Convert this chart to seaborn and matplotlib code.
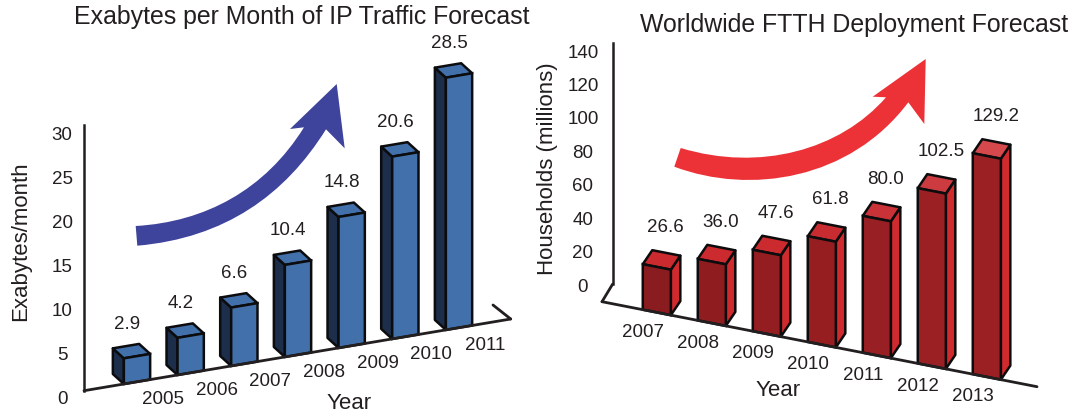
import matplotlib
matplotlib.use("Agg")
import matplotlib.pyplot as plt
import seaborn as sns
from matplotlib.patches import PathPatch, Polygon
from matplotlib.path import Path
from matplotlib.transforms import Affine2D

W, H = 1071, 415

ip_years = ["2005", "2006", "2007", "2008", "2009", "2010", "2011"]
ip_traffic = [2.9, 4.2, 6.6, 10.4, 14.8, 20.6, 28.5]
ip_ticks = [0, 5, 10, 15, 20, 25, 30]

ftth_years = ["2007", "2008", "2009", "2010", "2011", "2012", "2013"]
ftth_households = [26.6, 36.0, 47.6, 61.8, 80.0, 102.5, 129.2]
ftth_ticks = [0, 20, 40, 60, 80, 100, 120, 140]

INK = "#231f20"
EDGE = "#0c0c0e"
BLUE_STYLE = {"front": ["#4270aa"] * 7, "side": "#1c2e4a", "top": ["#4270aa"] * 7}
RED_STYLE = {
    "front": ["#8a1b1e", "#8f1c1f", "#931d20", "#961e21", "#981f23", "#9a2024", "#9a2024"],
    "side": "#cf2a2e",
    "top": ["#cb2a2e", "#cb2a2e", "#cb2a2e", "#c92c30", "#c93236", "#cb3b40", "#d5484c"],
}

sns.set_style("white")
plt.rcParams["font.family"] = ["Liberation Sans", "DejaVu Sans"]

fig = plt.figure(figsize=(W / 100, H / 100), dpi=100)
# picture pixels (y down) to display
px = Affine2D().scale(1, -1).translate(0, H)


def draw_panel(rect, x0, dx, zero, unit, bar_unit, base, depth, years, values,
               ticks, colors, width, label_off, year_off):
    left, right, top = rect
    ax = fig.add_axes([left / W, (H - zero) / H, (right - left) / W, (zero - top) / H])
    sns.barplot(x=years, y=values, color=colors["front"][0], saturation=1, width=width,
                edgecolor=EDGE, linewidth=1.8, ax=ax, zorder=3)
    ax.set_xlim((left - x0) / dx, (right - x0) / dx)
    ax.set_ylim(0, (zero - top) / unit)
    ax.patch.set_alpha(0)

    # slanted floor: shift each bar along the drawn x axis
    (bx0, by0), (bx1, by1) = base
    rise = (by0 - by1) / (bx1 - bx0)
    floor0 = by0 - rise * (x0 - bx0)
    shear = Affine2D.from_values(1, rise * dx / unit, 0, bar_unit / unit, 0, (zero - floor0) / unit)
    trans = shear + ax.transData

    for i, (bar, value) in enumerate(zip(ax.patches, values)):
        bar.set_transform(trans)
        bar.set_clip_on(False)
        bar.set_facecolor(colors["front"][i])
        x_a, x_b = bar.get_x(), bar.get_x() + bar.get_width()
        bl, tl, tr, br = trans.transform([(x_a, 0), (x_a, value), (x_b, value), (x_b, 0)])
        tl_b, tr_b = tl + depth, tr + depth
        bl_b, br_b = bl + depth, br + depth
        side = [bl, tl, tl_b, bl_b] if depth[0] < 0 else [br, tr, tr_b, br_b]
        for pts, c in ((side, colors["side"]), ([tl, tr, tr_b, tl_b], colors["top"][i])):
            ax.add_patch(Polygon(pts, closed=True, facecolor=c, edgecolor=EDGE, linewidth=1.8,
                                 joinstyle="round", transform=None, clip_on=False, zorder=2))
        ax.annotate(f"{value:.1f}", xy=(i, value), xycoords=trans, xytext=label_off,
                    textcoords="offset pixels", ha="center", va="center", fontsize=13.5, color=INK)
        ax.annotate(years[i], xy=(i, 0), xycoords=trans, xytext=year_off,
                    textcoords="offset pixels", ha="center", va="center", fontsize=13.5, color=INK)

    ax.set_xticks([])
    ax.set_xlabel("")
    ax.set_yticks(ticks)
    sns.despine(ax=ax, bottom=True)
    ax.spines["left"].set_color(INK)
    ax.spines["left"].set_linewidth(1.8)
    ax.grid(False)
    ax.plot([bx0, bx1], [by0, by1], color=INK, lw=2, transform=px, clip_on=False,
            solid_capstyle="round", zorder=4)
    return ax


def arrow(points, color):
    codes = [Path.MOVETO, Path.CURVE4, Path.CURVE4, Path.CURVE4, Path.LINETO, Path.LINETO,
             Path.LINETO, Path.LINETO, Path.CURVE4, Path.CURVE4, Path.CURVE4, Path.CLOSEPOLY]
    patch = PathPatch(Path(points + [points[0]], codes), facecolor=color, edgecolor="none",
                      transform=px, zorder=1)
    fig.add_artist(patch)


ax1 = draw_panel((84, 530, 60), 137, 53.67, 397, 8.77, 8.85, ((84, 390.7), (510.7, 319)), (-11, 10),
                 ip_years, ip_traffic, ip_ticks, BLUE_STYLE, 0.49, (-10, 32), (26, -18))
ax1.spines["left"].set_bounds(0.7, 31)
ax1.tick_params(axis="y", length=0, pad=15.8, labelsize=13.5, labelcolor=INK)
for t in ax1.get_yticklabels():
    t.set_horizontalalignment("center")
ax1.plot([510.7, 493], [319, 305], color=INK, lw=2, transform=px, clip_on=False, zorder=4)
ax1.set_ylabel("Exabytes/month", fontsize=16, color=INK, va="center")
ax1.yaxis.set_label_coords(21, 241.5, transform=px)
ax1.text(301.5, 17, "Exabytes per Month of IP Traffic Forecast", transform=px, ha="center", va="center",
         fontsize=17.9, color=INK)
ax1.text(349, 403, "Year", transform=px, ha="center", va="center", fontsize=16, color=INK)

ax2 = draw_panel((612.7, 1060, 42), 656.8, 55, 285, 1.67, 1.71, ((602, 301.7), (1037, 386.7)), (9.5, 14),
                 ftth_years, ftth_households, ftth_ticks, RED_STYLE, 0.51, (9, 39), (-14, -20))
ax2.spines["left"].set_bounds(0.6, 145)
ax2.tick_params(axis="y", length=0, pad=21.4, labelsize=13.5, labelcolor=INK)
for t in ax2.get_yticklabels():
    t.set_horizontalalignment("center")
ax2.plot([612.7, 602], [284, 301.7], color=INK, lw=2, transform=px, clip_on=False, zorder=4)
ax2.set_ylabel("Households (millions)", fontsize=16, color=INK, va="center")
ax2.yaxis.set_label_coords(547, 169, transform=px)
ax2.text(854, 25, "Worldwide FTTH Deployment Forecast", transform=px, ha="center", va="center",
         fontsize=17.9, color=INK)
ax2.text(778, 390, "Year", transform=px, ha="center", va="center", fontsize=16, color=INK)

arrow([(135.7, 226), (205, 222), (265, 190), (304, 127.3), (290, 129), (336.7, 84), (344.7, 148.3),
       (326, 129.3), (285, 195), (225, 238), (137.3, 245.7)], "#3e439b")
arrow([(680.7, 148), (760, 172), (840, 150), (886, 97.3), (872.7, 96.7), (925.7, 59), (924.3, 124),
       (908.3, 102.3), (850, 180), (750, 195), (674.3, 166.7)], "#ec3237")

fig.savefig("out.png", dpi=100)
